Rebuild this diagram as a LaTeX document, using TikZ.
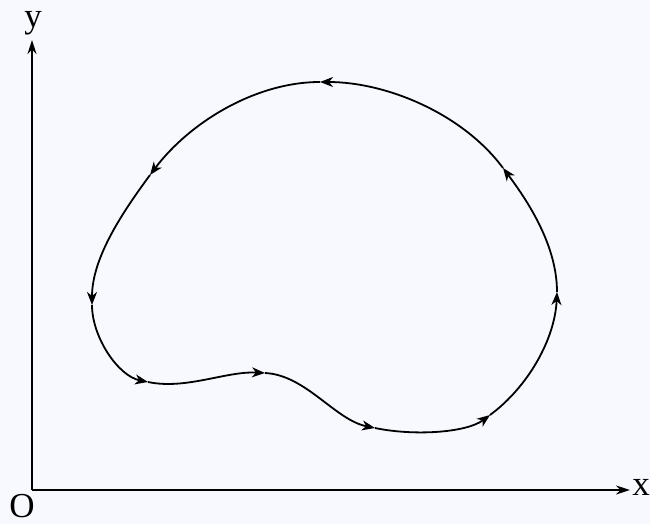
\documentclass[tikz,border=0pt]{standalone}
\usepackage{fontspec}
\setmainfont{Liberation Serif}
\usetikzlibrary{arrows.meta}
\begin{document}
\begin{tikzpicture}[x=1pt,y=-1pt,
  axis/.style={line width=1.9pt,-{Stealth[length=14pt,width=9pt]}},
  seg/.style={line width=1.8pt,-{Stealth[length=13pt,width=10pt,inset=4pt]}},
  lbl/.style={font=\fontsize{35}{35}\selectfont,inner sep=0pt}]
\fill[fill={rgb,255:red,248;green,248;blue,255}] (0,0) rectangle (650,524);
\useasboundingbox (0,0) rectangle (650,524);
\coordinate (O) at (32,490);
\coordinate (X) at (630,490);
\coordinate (Y) at (32,40);
\draw[axis] (O) -- (X);
\draw[axis] (O) -- (Y);
\node[lbl] (ly) at (33,23) {y};
\node[lbl] (lo) at (22,506) {O};
\node[lbl] (lx) at (641,487) {x};
% curve points
\coordinate (P1) at (320,82);
\coordinate (P2) at (150,175);
\coordinate (P3) at (92,305);
\coordinate (P4) at (148,382);
\coordinate (P5) at (265,373);
\coordinate (P6) at (375,428);
\coordinate (P7) at (490,415);
\coordinate (P8) at (557,292);
\coordinate (P9) at (503,168);
\draw[seg] (P1) .. controls (255,82) and (189,123) .. (P2);
\draw[seg] (P2) .. controls (122,213) and (92,258) .. (P3);
\draw[seg] (P3) .. controls (92,337) and (118,376) .. (P4);
\draw[seg] (P4) .. controls (186,390) and (226,371) .. (P5);
\draw[seg] (P5) .. controls (306,375) and (335,420) .. (P6);
\draw[seg] (P6) .. controls (413,436) and (466,433) .. (P7);
\draw[seg] (P7) .. controls (528,387) and (555,339) .. (P8);
\draw[seg] (P8) .. controls (557,247) and (530,204) .. (P9);
\draw[seg] (P9) .. controls (463,114) and (387,82) .. (P1);
\end{tikzpicture}
\end{document}
